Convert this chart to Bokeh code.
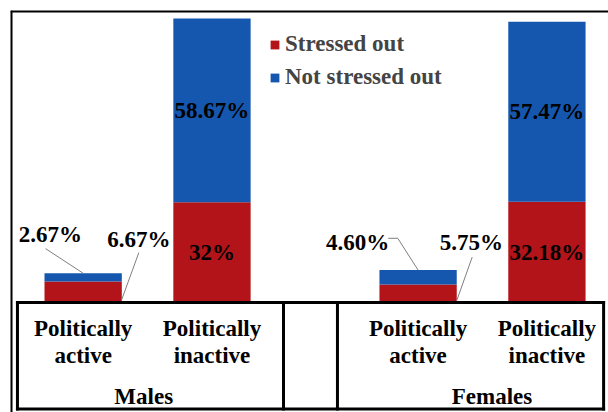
from bokeh.plotting import figure
from bokeh.models import (ColumnDataSource, FactorRange, Range1d, Span,
                          Legend, LegendItem)
from bokeh.core.properties import value
from bokeh.embed import file_html
from bokeh.resources import INLINE

# ---------------- data ----------------
groups = ["Males", "Males", "Females", "Females"]
subgroups = ["Politically active", "Politically inactive",
             "Politically active", "Politically inactive"]
stressed = [6.67, 32.0, 5.75, 32.18]
not_stressed = [2.67, 58.67, 4.60, 57.47]
stressed_labels = ["6.67%", "32%", "5.75%", "32.18%"]
not_stressed_labels = ["2.67%", "58.67%", "4.60%", "57.47%"]
series_names = ["Stressed out", "Not stressed out"]
group_names = ["Males", "Females"]

# ---------------- style ----------------
RED = "#B3141A"
BLUE = "#1557AF"
FONT = "Liberation Serif"
FS = "23px"
SHIFT = 0.043
TABLE_BOTTOM = -34.0
Y0, Y1 = -35.12, 93.23

factors = list(zip(groups, subgroups))
x_range = FactorRange(factors=factors, group_padding=0.6, factor_padding=0.0,
                      range_padding=0.021, range_padding_units="absolute")
y_range = Range1d(Y0, Y1)

p = figure(width=608, height=412, x_range=x_range, y_range=y_range,
           x_axis_location=None, y_axis_location=None,
           toolbar_location=None, output_backend="svg",
           min_border_left=10, min_border_top=10,
           min_border_right=0, min_border_bottom=0)
p.outline_line_color = None
p.xgrid.visible = False
p.ygrid.visible = False
p.background_fill_color = "white"
p.border_fill_color = "white"


def fx(i, off=0.0):
    return (groups[i], subgroups[i], SHIFT + off)


def label(src):
    p.text("x", "y", "t", source=src, text_font=value(FONT),
           text_font_style="bold", text_font_size=FS, text_align="center",
           text_baseline="middle", text_color="black")


# ---------------- bars ----------------
src = ColumnDataSource(dict(x=[fx(i) for i in range(4)],
                            stressed=stressed, not_stressed=not_stressed))
rs = p.vbar_stack(["stressed", "not_stressed"], x="x", width=0.6,
                  fill_color=[RED, BLUE], line_color=None, source=src)

# ---------------- table under the bars ----------------
xl = fx(0, -0.51)
xm = fx(1, 0.555)
xf = fx(2, -0.626)
xr = fx(3, 0.44)
seg = ColumnDataSource(dict(
    x0=[xl, xl, xl, xm, xf, xr],
    x1=[xr, xr, xl, xm, xf, xr],
    y0=[0, TABLE_BOTTOM, 0, 0, 0, 0],
    y1=[0, TABLE_BOTTOM, TABLE_BOTTOM, TABLE_BOTTOM, TABLE_BOTTOM, TABLE_BOTTOM],
))
p.segment("x0", "y0", "x1", "y1", source=seg, line_color="black",
          line_width=3, line_cap="square")

words1 = [s.split(" ", 1)[0] for s in subgroups]
words2 = [s.split(" ", 1)[1] for s in subgroups]
label(ColumnDataSource(dict(x=[fx(i) for i in range(4)] * 2,
                            y=[-8.3] * 4 + [-16.9] * 4,
                            t=words1 + words2)))
label(ColumnDataSource(dict(x=[fx(0, 0.47), fx(2, 0.574)],
                            y=[-30.0, -30.0], t=group_names)))

# ---------------- value labels ----------------
lab_x, lab_y, lab_t = [], [], []
for i in (1, 3):
    lab_x += [fx(i), fx(i)]
    lab_y += [stressed[i] / 2, stressed[i] + not_stressed[i] / 2]
    lab_t += [stressed_labels[i], not_stressed_labels[i]]
# outside labels for the small bars
lab_x += [fx(0, -0.254), fx(0, 0.433), fx(2, -0.470), fx(2, 0.414)]
lab_y += [21.7, 20.0, 19.2, 19.2]
lab_t += [not_stressed_labels[0], stressed_labels[0],
          not_stressed_labels[2], stressed_labels[2]]
label(ColumnDataSource(dict(x=lab_x, y=lab_y, t=lab_t)))

tot0 = stressed[0] + not_stressed[0]
tot2 = stressed[2] + not_stressed[2]
lead = ColumnDataSource(dict(
    x0=[fx(0, -0.292), fx(0, 0.432), fx(2, -0.232), fx(2, -0.158), fx(2, 0.42)],
    y0=[17.2, 15.9, 20.5, 20.5, 14.5],
    x1=[fx(0), fx(0, 0.3), fx(2, -0.158), fx(2), fx(2, 0.3)],
    y1=[tot0, 1.0, 20.5, tot2, 0.6],
))
p.segment("x0", "y0", "x1", "y1", source=lead, line_color="#7f7f7f",
          line_width=1)

# ---------------- outer frame (top and left edges) ----------------
p.add_layout(Span(location=Y1 - 0.16, dimension="width",
                  line_color="black", line_width=3))
p.add_layout(Span(location=-0.017, dimension="height",
                  line_color="black", line_width=3))

# ---------------- legend ----------------
legend = Legend(items=[LegendItem(label=series_names[0], renderers=[rs[0]]),
                       LegendItem(label=series_names[1], renderers=[rs[1]])],
                location=(259, 322), glyph_width=11, glyph_height=11,
                label_text_font=FONT, label_text_font_style="bold",
                label_text_font_size=FS, label_height=26, label_standoff=5,
                spacing=7, padding=0, margin=0, border_line_color=None,
                background_fill_alpha=0)
p.add_layout(legend)

open("out.html", "w").write(file_html(p, INLINE))
